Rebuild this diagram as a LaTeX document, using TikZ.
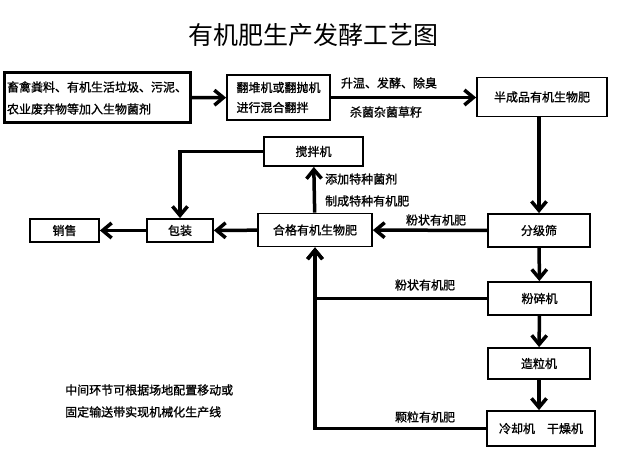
\documentclass[tikz,border=0pt]{standalone}
\usepackage{fontspec}
\newfontfamily\cjk{Noto Sans CJK SC}
\newfontfamily\cjkbody[FakeBold=1.2]{Noto Sans CJK SC}
\usetikzlibrary{arrows.meta}

\begin{document}
\begin{tikzpicture}[x=1pt, y=-1pt, font=\cjkbody\fontsize{12pt}{14pt}\selectfont,
  box/.style={draw, line width=1.8pt, inner sep=0pt},
  flow/.style={line width=3.5pt, -{Straight Barb[length=9pt, width=15pt]}},
  note/.style={inner sep=0pt}]
  \useasboundingbox (0, 0) rectangle (624, 454);

  \node[note, font=\cjk\fontsize{25pt}{28pt}\selectfont] (title) at (313, 35) {有机肥生产发酵工艺图};

  \node[box, line width=3pt, minimum width=186pt, minimum height=50pt, align=left] (src) at (97, 98)
    {畜禽粪料、有机生活垃圾、污泥、\\[8pt]农业废弃物等加入生物菌剂};
  \node[box, minimum width=103pt, minimum height=45pt, align=left] (turn) at (278.5, 97.5)
    {翻堆机或翻抛机\\[6pt]进行混合翻拌};
  \node[box, minimum width=130pt, minimum height=39pt] (semi) at (542, 97) {半成品有机生物肥};
  \node[box, minimum width=102pt, minimum height=33pt] (sieve) at (539, 230.5) {分级筛};
  \node[box, minimum width=114pt, minimum height=33pt] (good) at (315, 230) {合格有机生物肥};
  \node[box, minimum width=99pt, minimum height=29pt] (mixer) at (313.5, 151.5) {搅拌机};
  \node[box, minimum width=66pt, minimum height=23pt] (pack) at (180, 230.5) {包装};
  \node[box, minimum width=69pt, minimum height=23pt] (sale) at (64.5, 230.5) {销售};
  \node[box, minimum width=103pt, minimum height=33pt] (crush) at (539.5, 298.5) {粉碎机};
  \node[box, minimum width=102pt, minimum height=31pt] (gran) at (539, 363.5) {造粒机};
  \node[box, minimum width=108pt, minimum height=35pt] (cool) at (541, 428.5) {冷却机\hspace{1em}干燥机};

  \node[note] (heat) at (389, 83) {升温、发酵、除臭};
  \node[note] (kill) at (386, 112) {杀菌杂菌草籽};
  \node[note, anchor=west] (addbac) at (325, 179) {添加特种菌剂};
  \node[note, anchor=west] (special) at (325, 201) {制成特种有机肥};
  \node[note] (powder1) at (436, 220) {粉状有机肥};
  \node[note] (powder2) at (425, 285) {粉状有机肥};
  \node[note] (grain) at (425, 417) {颗粒有机肥};
  \node[note, align=left, anchor=west] (remark) at (65, 401)
    {中间环节可根据场地配置移动或\\[8pt]固定输送带实现机械化生产线};

  \draw[flow] (src) -- (turn);
  \draw[flow] (turn) -- (semi.west |- turn);
  \draw[flow] (semi.south -| sieve) -- (sieve.north);
  \draw[flow] (sieve) -- (good);
  \draw[flow] (good) -- (mixer);
  \draw[flow] (mixer.west) -| (pack.north);
  \draw[flow] (good) -- (pack);
  \draw[flow] (pack) -- (sale);
  \draw[flow] (sieve) -- (crush);
  \draw[flow] (crush) -- (gran);
  \draw[flow] (gran) -- (gran |- cool.north);
  \draw[flow] (crush.west) -| (good.south);
  \draw[flow] (cool.west) -| (good.south);
\end{tikzpicture}
\end{document}
